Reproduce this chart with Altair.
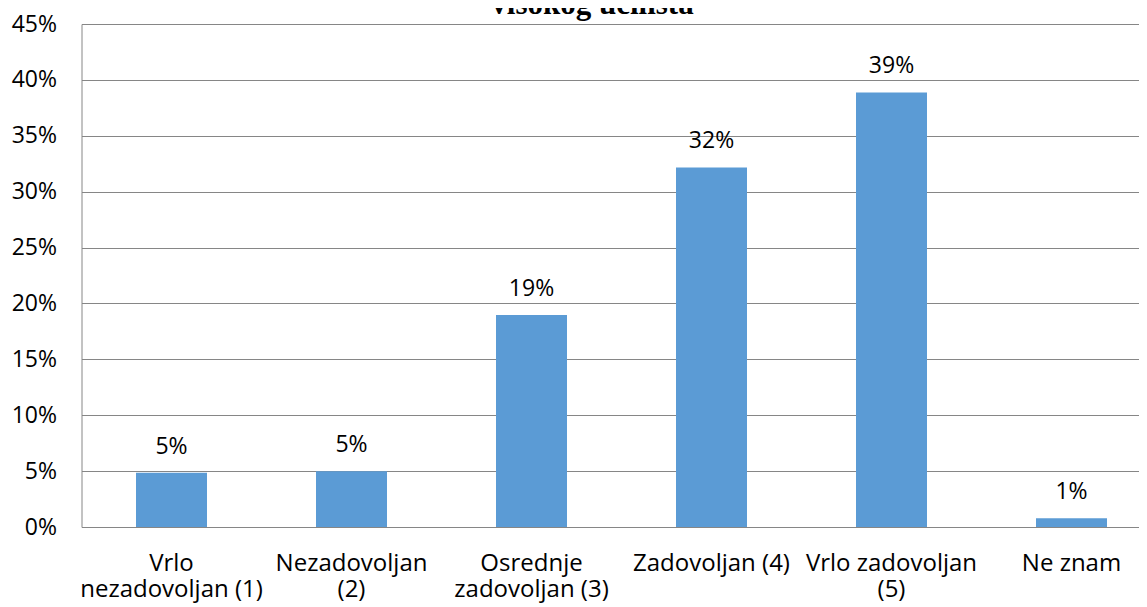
import altair as alt
import pandas as pd

categories = [
    "Vrlo\nnezadovoljan (1)",
    "Nezadovoljan\n(2)",
    "Osrednje\nzadovoljan (3)",
    "Zadovoljan (4)",
    "Vrlo zadovoljan\n(5)",
    "Ne znam",
]
values = [0.0486, 0.0498, 0.1896, 0.3217, 0.3888, 0.0078]
y_ticks = [0, 0.05, 0.10, 0.15, 0.20, 0.25, 0.30, 0.35, 0.40, 0.45]
title_text = "visokog učilišta"

df = pd.DataFrame({"cat": categories, "val": values})

FONT = "Open Sans"
GRAY = "#868686"

x_enc = alt.X(
    "cat:N",
    sort=None,
    scale=alt.Scale(range=[0, 1080], paddingInner=0, paddingOuter=0),
    axis=alt.Axis(
        title=None,
        labelAngle=0,
        ticks=False,
        domainColor=GRAY,
        labelPadding=24,
        labelLineHeight=26.5,
        labelLimit=400,
        labelExpr="split(datum.label, '\\n')",
        labelFont=FONT,
        labelFontSize=24,
        labelColor="#000000",
    ),
)
y_enc = alt.Y(
    "val:Q",
    scale=alt.Scale(domain=[0, 0.45], nice=False),
    axis=alt.Axis(
        title=None,
        values=y_ticks,
        format=".0%",
        ticks=False,
        domainColor=GRAY,
        gridColor=GRAY,
        gridWidth=1,
        labelPadding=25,
        labelFont=FONT,
        labelFontSize=23,
        labelColor="#000000",
    ),
)

base = alt.Chart(df)
bars = base.mark_bar(size=71, color="#5B9BD5").encode(x=x_enc, y=y_enc)
labels = base.mark_text(
    baseline="alphabetic", dy=-19, font=FONT, fontSize=23, color="#000000"
).encode(x=x_enc, y=y_enc, text=alt.Text("val:Q", format=".0%"))

title = alt.Chart(pd.DataFrame({"t": [title_text]})).mark_text(
    font="Liberation Serif", fontSize=31, fontWeight="bold",
    baseline="alphabetic", align="center", color="#000000"
).encode(text="t:N", x=alt.value(511), y=alt.value(-10))

chart = alt.layer(bars, labels, title).properties(
    width=1057,
    height=503,
    autosize=alt.AutoSizeParams(type="none"),
    padding={"left": 73.5, "top": 16, "right": 0, "bottom": 80},
).configure_view(stroke=None)

chart.save("out.html", embed_options={"renderer": "svg", "actions": False})
